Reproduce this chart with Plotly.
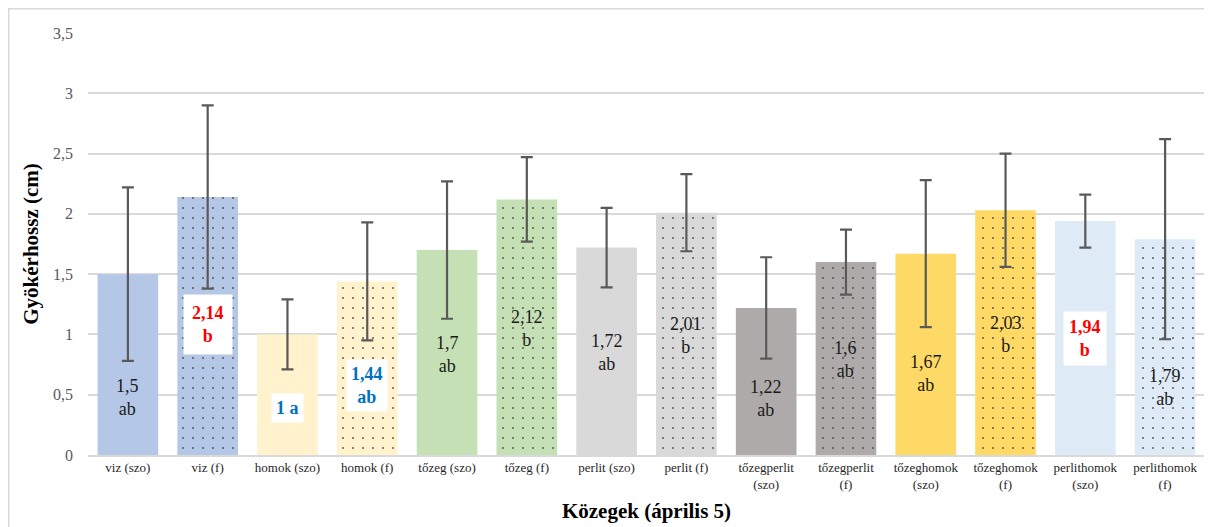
import plotly.graph_objects as go

categories = ["viz (szo)", "viz (f)", "homok (szo)", "homok (f)", "tőzeg (szo)", "tőzeg (f)",
              "perlit (szo)", "perlit (f)", "tőzegperlit<br>(szo)", "tőzegperlit<br>(f)",
              "tőzeghomok<br>(szo)", "tőzeghomok<br>(f)", "perlithomok<br>(szo)", "perlithomok<br>(f)"]
values = [1.5, 2.14, 1.0, 1.44, 1.7, 2.12, 1.72, 2.01, 1.22, 1.6, 1.67, 2.03, 1.94, 1.79]
errors = [0.72, 0.76, 0.29, 0.49, 0.57, 0.35, 0.33, 0.32, 0.42, 0.27, 0.61, 0.47, 0.22, 0.83]
colors = ["#B4C7E7", "#B4C7E7", "#FFF2CC", "#FFF2CC", "#C5E0B4", "#C5E0B4", "#D9D9D9", "#D9D9D9",
          "#AEAAAA", "#AEAAAA", "#FFD966", "#FFD966", "#DEEBF7", "#DEEBF7"]
dotted = [False, True] * 7
label_text = ["1,5<br>ab", "2,14<br>b", "1 a", "1,44<br>ab", "1,7<br>ab", "2,12<br>b", "1,72<br>ab",
              "2,01<br>b", "1,22<br>ab", "1,6<br>ab", "1,67<br>ab", "2,03<br>b", "1,94<br>b", "1,79<br>ab"]
label_y = [0.48, 1.08, 0.39, 0.58, 0.83, 1.05, 0.85, 0.99, 0.47, 0.79, 0.68, 1.0, 0.97, 0.56]
label_style = ["plain", "red", "blue", "blue", "plain", "plain", "plain", "plain",
               "plain", "plain", "plain", "plain", "red", "plain"]
label_pad = [0, 8, 4, 4, 0, 0, 0, 0, 0, 0, 0, 0, 5, 0]

SERIF = "Liberation Serif"

fig = go.Figure()
fig.add_trace(go.Bar(
    x=categories, y=values,
    marker=dict(
        color=colors,
        line=dict(width=0),
        pattern=dict(shape=["." if d else "" for d in dotted],
                     fgcolor="#3D74E0", fgopacity=0.8, size=10, solidity=0.035, fillmode="overlay"),
    ),
    error_y=dict(type="data", array=errors, visible=True, color="#595959", thickness=2.2, width=6),
    hoverinfo="skip",
))

for c, t, y, s, p in zip(categories, label_text, label_y, label_style, label_pad):
    if s == "plain":
        fig.add_annotation(x=c, y=y, text=t, showarrow=False,
                           font=dict(family=SERIF, size=18, color="#1a1a1a"))
    else:
        col = "#FF0000" if s == "red" else "#0070C0"
        fig.add_annotation(x=c, y=y, text="<b>" + t + "</b>", showarrow=False,
                           font=dict(family=SERIF, size=18, color=col),
                           bgcolor="white", borderpad=p)

# page body has an 8px margin, so the figure starts at (8, 8) in the window
L, R, T, B = 80, 7, 25, 72
W, H = 1204, 519
pw, ph = W - L - R, H - T - B
# outer chart border
fig.add_shape(type="rect", xref="paper", yref="paper",
              x0=(0.75 - L) / pw, x1=(1220 - L) / pw,
              y0=-(540 - T - ph) / ph, y1=1 + (T - 0.75) / ph,
              line=dict(color="#D9D9D9", width=1.5), fillcolor="rgba(0,0,0,0)", layer="below")

fig.update_layout(
    width=W, height=H,
    margin=dict(l=L, r=R, t=T, b=B),
    paper_bgcolor="white", plot_bgcolor="white",
    bargap=0.24, showlegend=False,
    font=dict(family=SERIF),
    xaxis=dict(showline=True, linecolor="#D9D9D9", linewidth=1.5, ticks="",
               tickfont=dict(family=SERIF, size=13, color="#262626"),
               title=dict(text="<b>Közegek (április 5)</b>", font=dict(family=SERIF, size=21, color="#000000"),
                          standoff=12),
               tickangle=0, automargin=False),
    yaxis=dict(range=[0, 3.5], dtick=0.5, tickformat=",.1~f",
               showgrid=True, gridcolor="#D9D9D9", gridwidth=1.5, zeroline=False,
               tickfont=dict(family=SERIF, size=16, color="#595959"),
               ticklabelstandoff=14,
               title=dict(text="<b>Gyökérhossz (cm)</b>", font=dict(family=SERIF, size=21, color="#000000"),
                          standoff=8),
               automargin=False),
    separators=", ",
)

fig.write_html("out.html")
